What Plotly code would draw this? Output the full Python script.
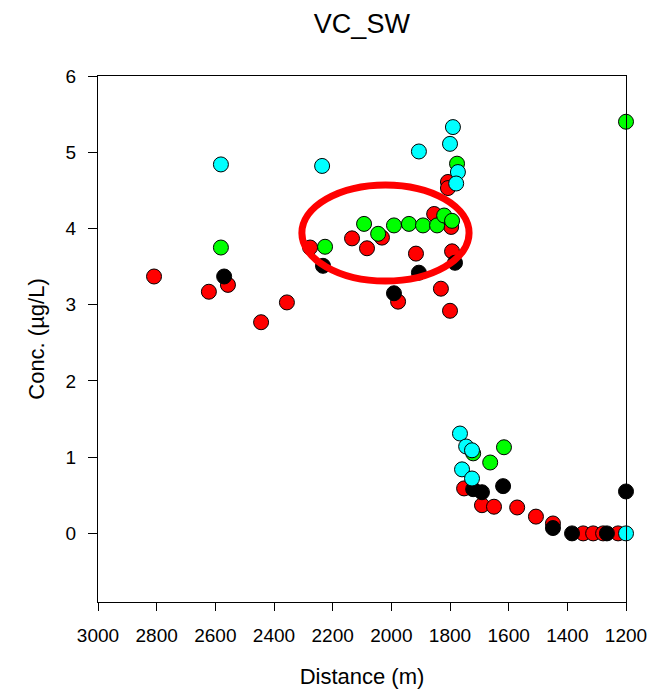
import plotly.graph_objects as go

red_x = [2809, 2622, 2557, 2444, 2356, 2277, 2134, 2083, 2032, 1854, 1796, 1916, 1793,
         1977, 1831, 1800, 1807, 1807, 1752, 1691, 1650, 1571, 1507, 1449, 1346, 1312, 1278, 1227]
red_y = [3.37, 3.17, 3.26, 2.77, 3.03, 3.75, 3.87, 3.74, 3.88, 4.19, 4.02, 3.67, 3.70,
         3.04, 3.21, 2.92, 4.61, 4.53, 0.59, 0.37, 0.35, 0.34, 0.22, 0.13, 0.0, 0.0, 0.0, 0.0]

black_x = [2570, 2233, 1906, 1783, 1991, 1721, 1691, 1619, 1449, 1384, 1265, 1200]
black_y = [3.37, 3.51, 3.42, 3.55, 3.15, 0.58, 0.54, 0.62, 0.07, 0.0, 0.0, 0.55]

green_x = [2581, 2226, 2093, 2045, 1991, 1940, 1892, 1844, 1820, 1793, 1776, 1721, 1663, 1616, 1200]
green_y = [3.75, 3.76, 4.06, 3.93, 4.04, 4.06, 4.04, 4.04, 4.17, 4.10, 4.85, 1.05, 0.93, 1.13, 5.40]

cyan_x = [2581, 2236, 1906, 1800, 1790, 1773, 1779, 1766, 1745, 1725, 1759, 1725, 1200]
cyan_y = [4.84, 4.82, 5.01, 5.11, 5.33, 4.74, 4.59, 1.31, 1.14, 1.09, 0.84, 0.72, 0.0]

x_ticks = [3000, 2800, 2600, 2400, 2200, 2000, 1800, 1600, 1400, 1200]
y_ticks = [0, 1, 2, 3, 4, 5, 6]

# highlight ellipse (data coords)
ell_cx, ell_rx = 2020, 285
ell_cy, ell_ry = 3.94, 0.63

FONT = "Arial, Liberation Sans, sans-serif"

fig = go.Figure()
for xs, ys, col in [(red_x, red_y, "#ff0000"), (black_x, black_y, "#000000"),
                    (green_x, green_y, "#00ff00"), (cyan_x, cyan_y, "#00ffff")]:
    fig.add_trace(go.Scatter(
        x=xs, y=ys, mode="markers",
        marker=dict(size=15, color=col, line=dict(color="black", width=1)),
        showlegend=False, cliponaxis=False))

fig.add_shape(type="circle", xref="x", yref="y",
              x0=ell_cx - ell_rx, x1=ell_cx + ell_rx,
              y0=ell_cy - ell_ry, y1=ell_cy + ell_ry,
              line=dict(color="#ff0000", width=7))

fig.update_layout(
    width=664, height=689,
    margin=dict(l=98, r=38, t=76, b=87),
    plot_bgcolor="white", paper_bgcolor="white",
    font=dict(family=FONT, size=19, color="black"),
    title=dict(text="VC_SW", x=0.545, xanchor="center", y=0.966, yanchor="middle",
               font=dict(size=27, family=FONT)),
    xaxis=dict(range=[3000, 1200], tickvals=x_ticks, ticks="outside", ticklen=8,
               tickcolor="black", showline=True, linecolor="black", linewidth=1,
               mirror=True, showgrid=False, zeroline=False, ticklabelstandoff=8,
               automargin=False,
               title=dict(text="Distance (m)", font=dict(size=22), standoff=26),
               tickfont=dict(size=19)),
    yaxis=dict(range=[-0.9, 6], tickvals=y_ticks, ticks="outside", ticklen=9,
               tickcolor="black", showline=True, linecolor="black", linewidth=1,
               mirror=True, showgrid=False, zeroline=False, ticklabelstandoff=8,
               automargin=False,
               title=dict(text="Conc. (µg/L)", font=dict(size=22), standoff=14),
               tickfont=dict(size=19)),
)

fig.write_html("out.html")
